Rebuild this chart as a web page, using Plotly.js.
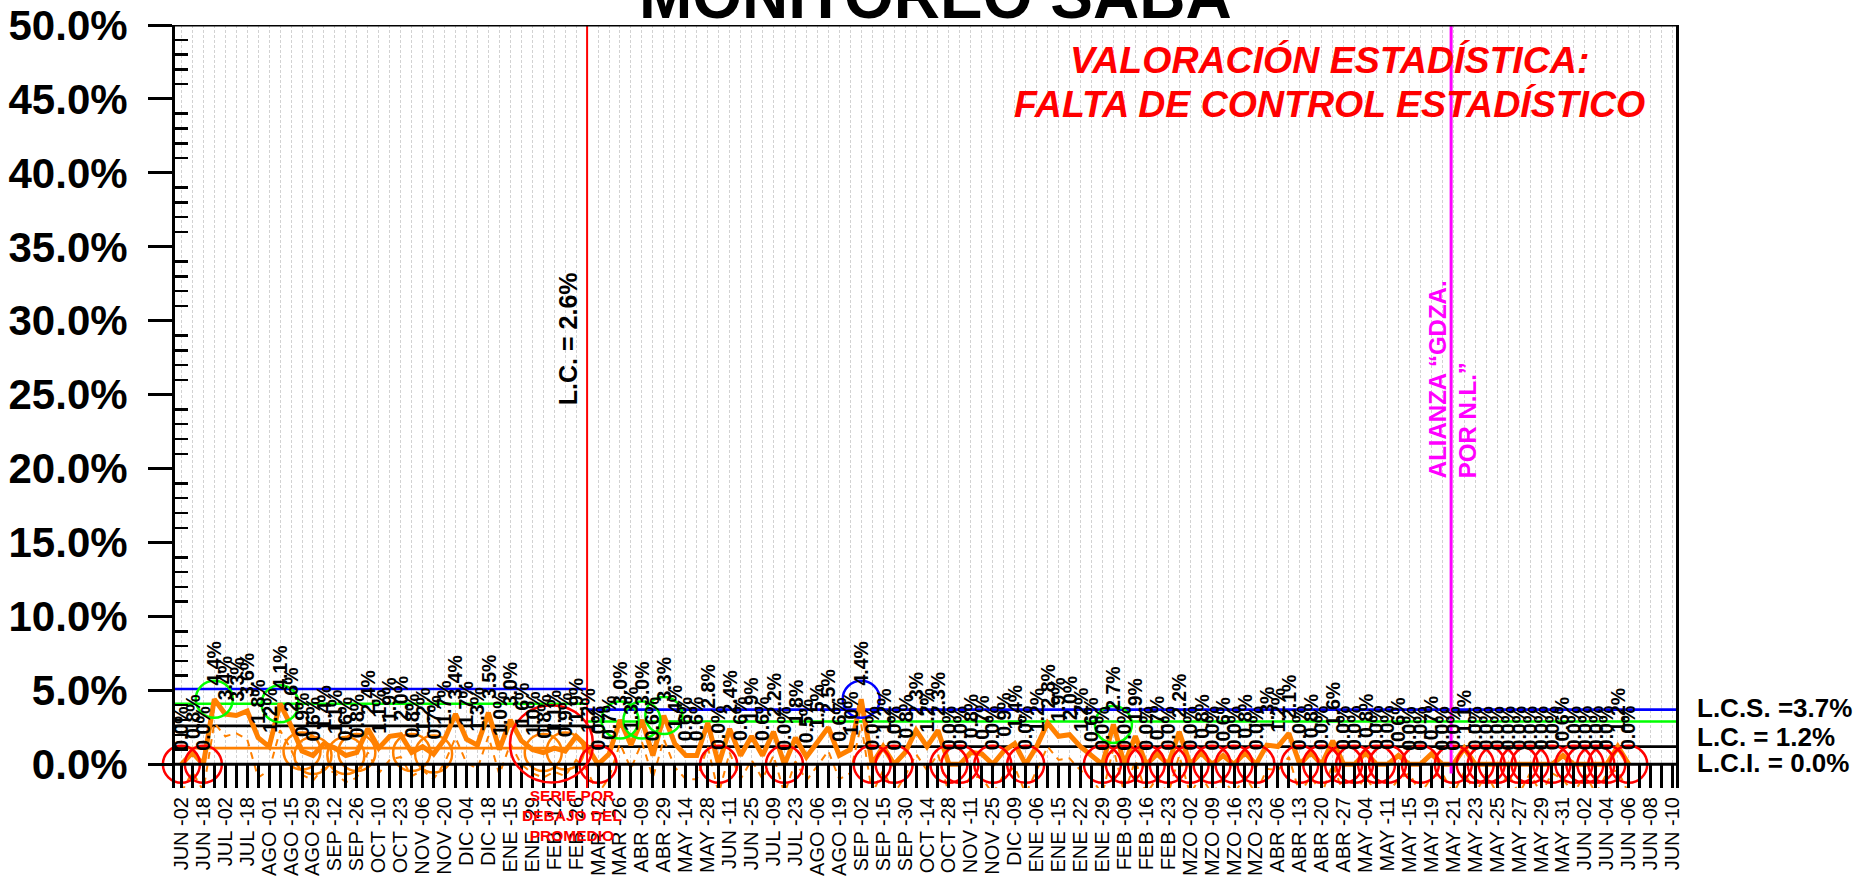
<!DOCTYPE html>
<html><head><meta charset="utf-8">
<script src="https://cdn.plot.ly/plotly-3.0.1.min.js"></script>
<style>html,body{margin:0;padding:0;background:#fff;}#chart{width:1858px;height:877px;}</style>
</head><body><div id="chart"></div>
<script>
// ---------------- DATA ----------------
const tickLabels = ["JUN -02","JUN -18","JUL -02","JUL -18","AGO -01","AGO -15","AGO -29","SEP -12","SEP -26","OCT -10","OCT -23","NOV -06","NOV -20","DIC -04","DIC -18","ENE -15","ENE -29","FEB -12","FEB -26","MAR -12","MAR -26","ABR -09","ABR -29","MAY -14","MAY -28","JUN -11","JUN -25","JUL -09","JUL -23","AGO -06","AGO -19","SEP -02","SEP -15","SEP -30","OCT -14","OCT -28","NOV -11","NOV -25","DIC -09","ENE -06","ENE -15","ENE -22","ENE -29","FEB -09","FEB -16","FEB -23","MZO -02","MZO -09","MZO -16","MZO -23","ABR -06","ABR -13","ABR -20","ABR -27","MAY -04","MAY -11","MAY -15","MAY -19","MAY -21","MAY -23","MAY -25","MAY -27","MAY -29","MAY -31","JUN -02","JUN -04","JUN -06","JUN -08","JUN -10"];

// main series (%), one value per poll
const phase1Values = [0.0,0.8,0.0,4.4,3.4,3.3,3.6,1.8,1.2,4.1,2.6,0.9,0.6,1.4,1.1,0.6,0.8,2.4,1.1,1.9,2.0,0.8,1.2,0.7,1.7,3.4,1.7,1.3,3.5,1.0,3.0,1.6,1.0,0.8,1.1,0.9,1.9,1.2];
const phase2Values = [0.0,0.7,3.0,1.3,3.0,0.6,3.3,1.4,0.6,0.6,
  2.8,0.0,2.4,0.6,1.9,0.6,2.2,0.0,1.8,0.5,
  1.5,2.5,0.6,1.0,4.4,0.0,1.2,0.0,0.8,2.3,
  1.2,2.3,0.0,0.0,0.8,0.7,0.0,0.9,1.4,0.0,
  1.2,2.8,1.9,2.0,1.2,0.6,0.0,2.7,0.0,1.9,
  0.0,0.7,0.0,2.2,0.0,0.8,0.0,0.6,0.0,0.8,
  0.0,1.3,1.2,2.1,0.0,0.8,0.0,1.6,0.0,0.0,
  0.8,0.0,0.0,0.6,0.0,0.0,0.7,0.0,0.0,1.1,
  0.0,0.0,0.0,0.0,0.0,0.0,0.0,0.0,0.6,0.0,
  0.0,0.0,0.0,1.2,0.0];

// thin dashed orange series
const dashValues = [-1.9,-0.5,-1.8,2.8,1.9,2.1,1.7,-0.9,-0.4,2.3,1.0,-0.7,-1.1,-0.2,-0.6,-1.2,-0.9,0.8,-0.6,0.3,0.5,-0.8,-0.4,-1.0,0.1,1.8,0.1,-0.3,1.9,-0.7,1.4,0.0,-0.6,-0.9,-0.5,-0.8,0.3,-0.4,
  -2.0,-0.9,1.4,-0.3,1.5,-0.9,1.7,-0.2,-1.0,-1.0,
  1.2,-2.0,0.8,-1.0,0.3,-1.0,0.6,-2.0,0.2,-1.1,
  -0.1,0.9,-1.0,-0.6,2.7,-2.0,-0.4,-2.0,-0.8,0.7,
  -0.4,0.7,-2.0,-2.0,-0.8,-0.9,-2.0,-0.7,-0.2,-2.0,
  -0.4,1.2,0.3,0.4,-0.4,-1.0,-2.0,1.1,-2.0,0.3,
  -2.0,-0.9,-2.0,0.6,-2.0,-0.8,-2.0,-1.0,-2.0,-0.8,
  -2.0,-0.3,-0.4,0.5,-2.0,-0.8,-2.0,0.0,-2.0,-2.0,
  -0.8,-2.0,-2.0,-1.0,-0.6,-2.0,-0.9,-0.6,-2.0,-0.5,
  -2.0,-0.6,-2.0,-0.6,-2.0,-0.6,-2.0,-0.6,-1.0,-2.0,
  -0.6,-2.0,-0.6,-0.4,-2.0];

// control limits per phase
const phaseStart = [-0.584, 37];
const phaseEnd   = [37, 136.31];
const lcsValues  = [5.1, 3.7];
const warnValues = [4.1, 2.9];
const lcValues   = [2.6, 1.2];
const lciValues  = [1.1, 0.0];

// flagged points (indices)
const redFlags    = [0,2,38,49,55,63,65,70,71,74,77,84,86,88,90,92,94,96,98,102,104,106,107,109,110,113,116,118,119,120,122,123,125,127,128,129,130,132];
const greenFlags  = [3,9,40,42,44,85];
const blueFlags   = [62];
const orangeFlags = [11,12,15,16,21,23,33,35];

const yTickValues = [0,5,10,15,20,25,30,35,40,45,50];
const allianceIndex = 115.8;

// ---------------- LAYOUT GEOMETRY ----------------
const FONT = 'Liberation Sans, Arial, sans-serif';
const L = 175, R = 1676, T = 25, B = 787.6;
const xMin = -0.584, xMax = 136.31, yMin = -1.6, yMax = 50;
const px2x = px => xMin + (px - L) * (xMax - xMin) / (R - L);
const py2y = py => yMax - (py - T) * (yMax - yMin) / (B - T);
const pxPaper = px => (px - L) / (R - L);
const pyPaper = py => (B - py) / (B - T);

const values = phase1Values.concat(phase2Values);
const idx = values.map((_, i) => i);

const traces = [];
// limit lines
const limitSets = [[lcsValues,'#0000FF'],[warnValues,'#00FF00'],[lcValues,'#000000']];
limitSets.forEach(([arr,color]) => {
  for (let p = 0; p < 2; p++) {
    traces.push({x:[phaseStart[p], phaseEnd[p]], y:[arr[p], arr[p]], mode:'lines',
      line:{color:color, width:2.6}, hoverinfo:'skip'});
  }
});
traces.push({x:[phaseStart[0], phaseEnd[0]], y:[lciValues[0], lciValues[0]], mode:'lines',
  line:{color:'#FF8000', width:2.6}, hoverinfo:'skip'});

// dashed thin series
traces.push({x: idx, y: dashValues, mode:'lines', line:{color:'#FF8000', width:2, dash:'7px,6px'}, hoverinfo:'skip'});
// main series
traces.push({x: idx, y: values, mode:'lines', line:{color:'#FF8000', width:5}, hoverinfo:'skip'});

function flagTrace(list, color) {
  return {x: list, y: list.map(i => values[i]), mode:'markers', cliponaxis:false,
    marker:{symbol:'circle-open', size:37, color:color, line:{width:2.5, color:color}}, hoverinfo:'skip'};
}
traces.push(flagTrace(orangeFlags,'#FF8000'));
traces.push(flagTrace(redFlags,'#FF0000'));
traces.push(flagTrace(greenFlags,'#00FF00'));
traces.push(flagTrace(blueFlags,'#0000FF'));

// axis ticks
const xTickVals = [], xTickText = [];
for (let i = 0; i <= 136; i++) { xTickVals.push(i); xTickText.push(i % 2 === 0 ? tickLabels[i/2] : ''); }
const minorVals = [];
for (let v = 1; v < 50; v++) if (v % 5 !== 0) minorVals.push(v);

const annotations = [];
values.forEach((v, i) => {
  annotations.push({x:i, y:v, xref:'x', yref:'y', text: v.toFixed(1) + '%', textangle:-90,
    xanchor:'center', yanchor:'bottom', yshift:12, showarrow:false,
    font:{family:FONT, size:19.5, weight:'bold', color:'#000'}});
});
function txt(text, px, py, size, color, opts) {
  return Object.assign({text, xref:'paper', yref:'paper', x:pxPaper(px), y:pyPaper(py),
    xanchor:'center', yanchor:'middle', showarrow:false,
    font:{family:FONT, size:size, weight:'bold', color:color}}, opts || {});
}
annotations.push(txt('MONITOREO SABA', 936, -4, 64, '#000'));
annotations.push(txt('VALORACIÓN ESTADÍSTICA:', 1329, 60, 37, '#FF0000', {font:{family:FONT,size:37.5,weight:'bold',style:'italic',color:'#FF0000'}}));
annotations.push(txt('FALTA DE CONTROL ESTADÍSTICO', 1329, 104, 37, '#FF0000', {font:{family:FONT,size:37.5,weight:'bold',style:'italic',color:'#FF0000'}}));
annotations.push(txt('L.C. = ' + lcValues[0].toFixed(1) + '%', 568, 339, 25, '#000', {textangle:-90}));
annotations.push(txt('ALIANZA “GDZA.', 1437, 379, 24, '#FF00FF', {textangle:-90}));
annotations.push(txt('POR N.L.”', 1467, 420, 24, '#FF00FF', {textangle:-90}));
annotations.push(txt('SERIE POR<br>DEBAJO DEL<br>PROMEDIO', 572, 815, 15.5, '#FF0000'));
annotations.push(txt('L.C.S. =' + lcsValues[1].toFixed(1) + '%', 1695, 708, 26, '#000', {xanchor:'left'}));
annotations.push(txt('L.C. = ' + lcValues[1].toFixed(1) + '%', 1695, 737, 26, '#000', {xanchor:'left'}));
annotations.push(txt('L.C.I. = ' + lciValues[1].toFixed(1) + '%', 1695, 763, 26, '#000', {xanchor:'left'}));

const shapes = [
  {type:'line', xref:'x', yref:'y', x0:phaseEnd[0], x1:phaseEnd[0], y0:yMin, y1:yMax, line:{color:'#FF0000', width:2}, layer:'above'},
  {type:'line', xref:'x', yref:'y', x0:allianceIndex, x1:allianceIndex, y0:py2y(773), y1:yMax, line:{color:'#FF00FF', width:3}, layer:'above'},
  {type:'line', xref:'x', yref:'y', x0:xMin, x1:xMax, y0:0, y1:0, line:{color:'#000', width:3}, layer:'above'},
  {type:'line', xref:'x', yref:'y', x0:xMin, x1:xMax, y0:yMax, y1:yMax, line:{color:'#000', width:3}, layer:'above'},
  {type:'circle', xref:'x', yref:'y', x0:px2x(510), x1:px2x(593), y0:py2y(782), y1:py2y(705), line:{color:'#FF0000', width:2.5}, layer:'above'}
];

const layout = {
  width:1858, height:877,
  margin:{l:L, r:1858-R, t:T, b:877-B, pad:0},
  paper_bgcolor:'#fff', plot_bgcolor:'#fff',
  showlegend:false, hovermode:false,
  font:{family:FONT, color:'#000'},
  xaxis:{range:[xMin,xMax], tickmode:'array', tickvals:xTickVals, ticktext:xTickText,
    ticks:'inside', ticklen:23, tickwidth:3, tickcolor:'#000', tickangle:-90,
    tickfont:{family:FONT, size:20, color:'#000'}, ticklabelstandoff:4,
    showgrid:true, gridcolor:'#d2d2d2', griddash:'3px,2px', gridwidth:1,
    showline:false, zeroline:false, fixedrange:true},
  yaxis:{range:[yMin,yMax], tickmode:'array', tickvals:yTickValues,
    ticktext:yTickValues.map(v => v.toFixed(1) + '%'),
    ticks:'outside', ticklen:24, tickwidth:3, tickcolor:'#000',
    tickfont:{family:FONT, size:42, weight:'bold', color:'#000'}, ticklabelstandoff:12,
    showline:true, linewidth:3, linecolor:'#000', mirror:true,
    showgrid:false, zeroline:false, fixedrange:true,
    minor:{tickmode:'array', tickvals:minorVals, ticks:'inside', ticklen:13, tickwidth:2.5, tickcolor:'#000', showgrid:false}},
  shapes, annotations
};
Plotly.newPlot('chart', traces, layout, {displayModeBar:false, staticPlot:true});
</script></body></html>
